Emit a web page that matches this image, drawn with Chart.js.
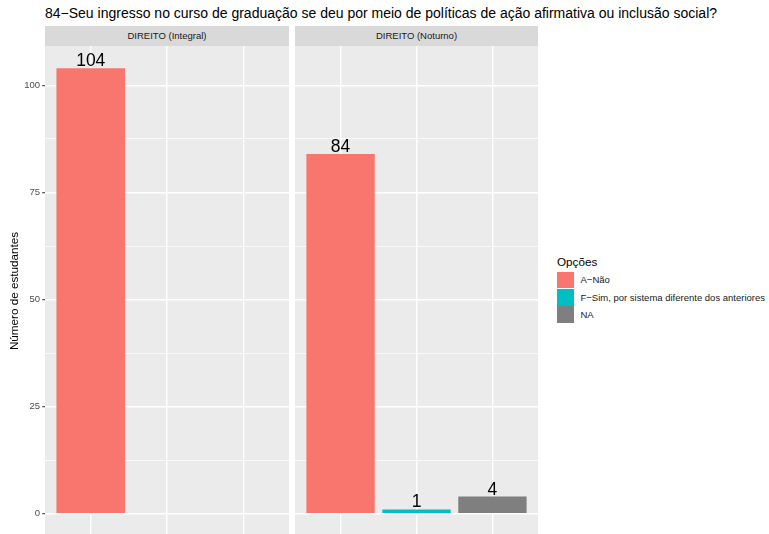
<!DOCTYPE html>
<html>
<head>
<meta charset="utf-8">
<script src="https://cdn.jsdelivr.net/npm/chart.js@4.4.1/dist/chart.umd.min.js"></script>
<style>
  body { margin: 0; background: #fff; overflow: hidden; font-family: "Liberation Sans", Arial, sans-serif; }
  #wrap { position: relative; width: 769px; height: 534px; overflow: hidden; }
  #title { position: absolute; left: 45px; top: 4.5px; font-size: 14px; color: #000; white-space: nowrap; }
  .strip { position: absolute; top: 26px; height: 20px; line-height: 20px; background: #D9D9D9; color: #1A1A1A; font-size: 9.5px; text-align: center; }
  canvas { position: absolute; top: 46px; }
  #legend { position: absolute; left: 557px; top: 254.5px; width: 212px; height: 80px; }
  #legend .ltitle { position: absolute; left: 0; top: 0; font-size: 11.7px; color: #000; }
  #legend .key { position: absolute; left: 0; width: 17.3px; height: 16.5px; }
  #legend .ltext { position: absolute; left: 23.5px; font-size: 9.5px; color: #1A1A1A; line-height: 17.3px; white-space: nowrap; }
</style>
</head>
<body>
<div id="wrap">
  <div id="title"></div>
  <div class="strip" id="strip0" style="left:45px; width:244px;"></div>
  <div class="strip" id="strip1" style="left:295px; width:243px;"></div>
  <canvas id="leftChart" width="289" height="490" style="left:0px;"></canvas>
  <canvas id="rightChart" width="243" height="490" style="left:295px;"></canvas>
  <div id="legend"></div>
</div>
<script>
// Data
const chartTitle = '84−Seu ingresso no curso de graduação se deu por meio de políticas de ação afirmativa ou inclusão social?';
const categories = ['A−Não', 'F−Sim, por sistema diferente dos anteriores', 'NA'];
const panels = ['DIREITO (Integral)', 'DIREITO (Noturno)'];
const integralValues = [104, null, null];
const noturnoValues = [84, 1, 4];
const barColors = ['#F8766D', '#00BFC4', '#7F7F7F'];
const yTicks = [0, 25, 50, 75, 100];
const yLimits = [-5.2, 109.2];
const legendTitle = 'Opções';
const yTitle = 'Número de estudantes';

const fontFamily = '"Liberation Sans", Arial, sans-serif';

// Texts
document.getElementById('title').textContent = chartTitle;
panels.forEach((p, i) => {
    document.getElementById('strip' + i).textContent = p;
});

// Legend
const legend = document.getElementById('legend');
legend.innerHTML = '<div class="ltitle">' + legendTitle + '</div>';
categories.forEach((c, i) => {
    const top = 17.2 + i * 17.3;
    legend.innerHTML += '<div class="key" style="top:' + top + 'px; background:' + barColors[i] + '"></div>' +
        '<div class="ltext" style="top:' + (top - 0.4) + 'px">' + c + '</div>';
});

// Grey panel background
const panelBg = {
    id: 'panelBg',
    beforeDraw(chart) {
        const { ctx, chartArea: a } = chart;
        ctx.save();
        ctx.fillStyle = '#EBEBEB';
        ctx.fillRect(a.left, a.top, a.right - a.left, a.bottom - a.top);
        ctx.restore();
    }
};

// Value labels above bars
const barLabels = {
    id: 'barLabels',
    afterDatasetsDraw(chart) {
        const { ctx } = chart;
        const meta = chart.getDatasetMeta(0);
        const points = chart.data.datasets[0].data;
        ctx.save();
        ctx.font = '17.5px ' + fontFamily;
        ctx.fillStyle = '#000';
        ctx.textAlign = 'center';
        ctx.textBaseline = 'alphabetic';
        meta.data.forEach((bar, i) => {
            const v = points[i].y;
            if (v === null || v === undefined) return;
            ctx.fillText(String(v), bar.x, bar.y - 2);
        });
        ctx.restore();
    }
};

function isMajor(v) {
    return yTicks.includes(v);
}

function makeChart(canvasId, values, showAxis) {
    return new Chart(document.getElementById(canvasId), {
        type: 'bar',
        data: {
            datasets: [{
                data: values.map((v, i) => ({ x: i, y: v })),
                backgroundColor: barColors,
                borderWidth: 0,
                barPercentage: 0.9,
                categoryPercentage: 1,
                grouped: false
            }]
        },
        options: {
            responsive: false,
            animation: false,
            layout: { padding: 0 },
            plugins: {
                legend: { display: false },
                tooltip: { enabled: false }
            },
            scales: {
                x: {
                    type: 'linear',
                    min: -0.6,
                    max: 2.6,
                    offset: false,
                    ticks: { display: false, stepSize: 1, includeBounds: false },
                    grid: { color: '#FFFFFF', lineWidth: 1.42, drawTicks: false, offset: false },
                    border: { display: false },
                    afterFit: s => { s.height = 0; s.paddingLeft = 0; s.paddingRight = 0; }
                },
                y: {
                    min: yLimits[0],
                    max: yLimits[1],
                    ticks: {
                        display: showAxis,
                        stepSize: 12.5,
                        includeBounds: false,
                        color: '#4D4D4D',
                        font: { size: 9.5, family: fontFamily },
                        padding: 2.2,
                        callback: v => isMajor(v) ? String(v) : ''
                    },
                    grid: {
                        color: '#FFFFFF',
                        lineWidth: c => isMajor(c.tick.value) ? 1.42 : 0.71,
                        drawTicks: showAxis,
                        tickLength: 2.75,
                        tickWidth: 1.07,
                        tickColor: c => isMajor(c.tick.value) ? '#333333' : 'rgba(0,0,0,0)'
                    },
                    border: { display: false },
                    title: {
                        display: showAxis,
                        text: yTitle,
                        color: '#000',
                        font: { size: 11.7, family: fontFamily },
                        padding: { top: 8, bottom: 0 }
                    },
                    afterFit: s => {
                        s.width = showAxis ? 45 : 0;
                        s.paddingTop = 0;
                        s.paddingBottom = 0;
                    }
                }
            }
        },
        plugins: [panelBg, barLabels]
    });
}

makeChart('leftChart', integralValues, true);
makeChart('rightChart', noturnoValues, false);
</script>
</body>
</html>
